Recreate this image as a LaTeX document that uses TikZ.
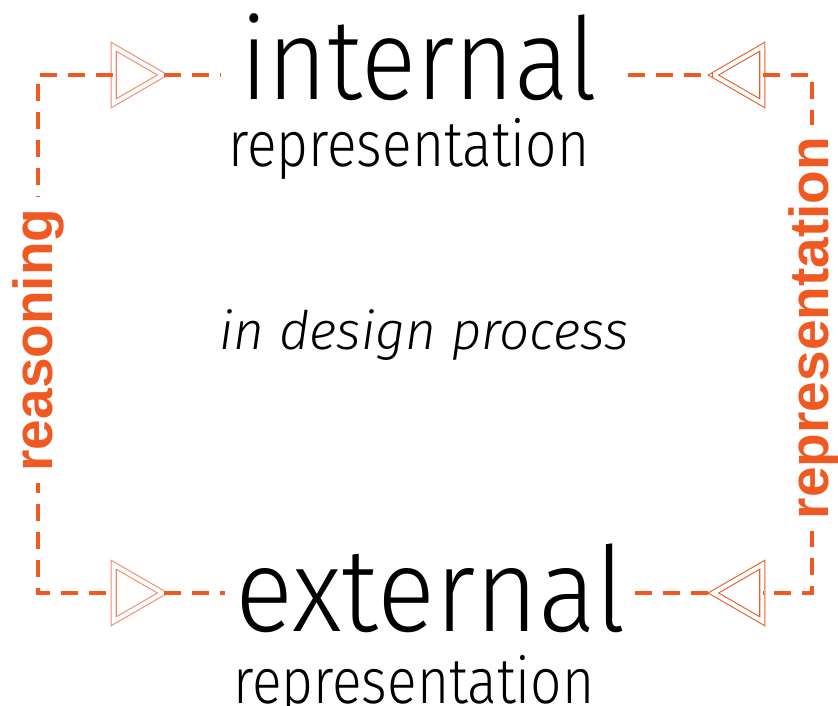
\documentclass[tikz,border=0pt]{standalone}
\usepackage{fontspec}
\setmainfont{Fira Sans}
\newfontfamily\thinfont{Fira Sans}[UprightFont={* Light},ItalicFont={* Light Italic}]
\newfontfamily\sidefont{Liberation Sans}
\usetikzlibrary{positioning,shapes.geometric}

\definecolor{dashorange}{RGB}{240,90,34}
\definecolor{trilight}{RGB}{240,140,110}
\definecolor{tridark}{RGB}{232,96,44}

\tikzset{
  dashline/.style={draw=dashorange, line width=4.5pt, dash pattern=on 17pt off 11pt},
  tri/.style={isosceles triangle, isosceles triangle apex angle=60,
    minimum height=49pt, inner sep=0pt, draw=#1, double, double distance=4pt,
    line width=1.1pt},
  bigword/.style={inner sep=0pt, anchor=base west, font=\thinfont\fontsize{#1}{#1}\selectfont},
  smallword/.style={inner sep=0pt, anchor=base west, xscale=0.86,
    font=\thinfont\fontsize{64}{64}\selectfont},
  sideword/.style={fill=white, inner xsep=12pt, inner ysep=0pt, rotate=90,
    text=dashorange, font=\sidefont\bfseries\fontsize{55}{55}\selectfont},
}

\begin{document}
\begin{tikzpicture}[x=1pt, y=-1pt]
\useasboundingbox (0,0) rectangle (838,706);
\def\xl{38};
\def\xr{812};
\def\yt{75};
\def\yb{593};

% corners and free ends
\coordinate (tl) at (\xl, \yt);
\coordinate (bl) at (\xl, \yb);
\coordinate (tr) at (\xr, \yt);
\coordinate (br) at (\xr, \yb);
\coordinate (e1) at (220, \yt);
\coordinate (e2) at (628, \yt);
\coordinate (e3) at (225, \yb);
\coordinate (e4) at (635, \yb);

% words
\node[bigword=114, xscale=0.9] (int) at (240, 100) {internal};
\node[smallword] (intrep) at (228, 167) {representation};
\node[inner sep=0pt, font=\thinfont\itshape\fontsize{53}{53}\selectfont] (proc) at (424, 335) {in design process};
\node[bigword=118, xscale=0.915] (ext) at (235, 631) {external};
\node[smallword] (extrep) at (233, 703) {representation};

% triangles
\node[tri=trilight] (t1) at (130, \yt) {};
\node[tri=tridark, shape border rotate=180] (t2) at (746, \yt) {};
\node[tri=trilight] (t3) at (130, \yb) {};
\node[tri=tridark, shape border rotate=180] (t4) at (746, \yb) {};

% dashed loops
\draw[dashline] (t1) -- (tl) -- (bl) -- (t3);
\draw[dashline] (t1) -- (e1);
\draw[dashline] (t3) -- (e3);
\draw[dashline] (t2) -- (tr) -- (br) -- (t4);
\draw[dashline] (e2) -- (t2);
\draw[dashline] (e4) -- (t4);

\node[sideword] (rsn) at (\xl, 340) {reasoning};
\node[sideword] (rep) at (814, 328) {representation};
\end{tikzpicture}
\end{document}
